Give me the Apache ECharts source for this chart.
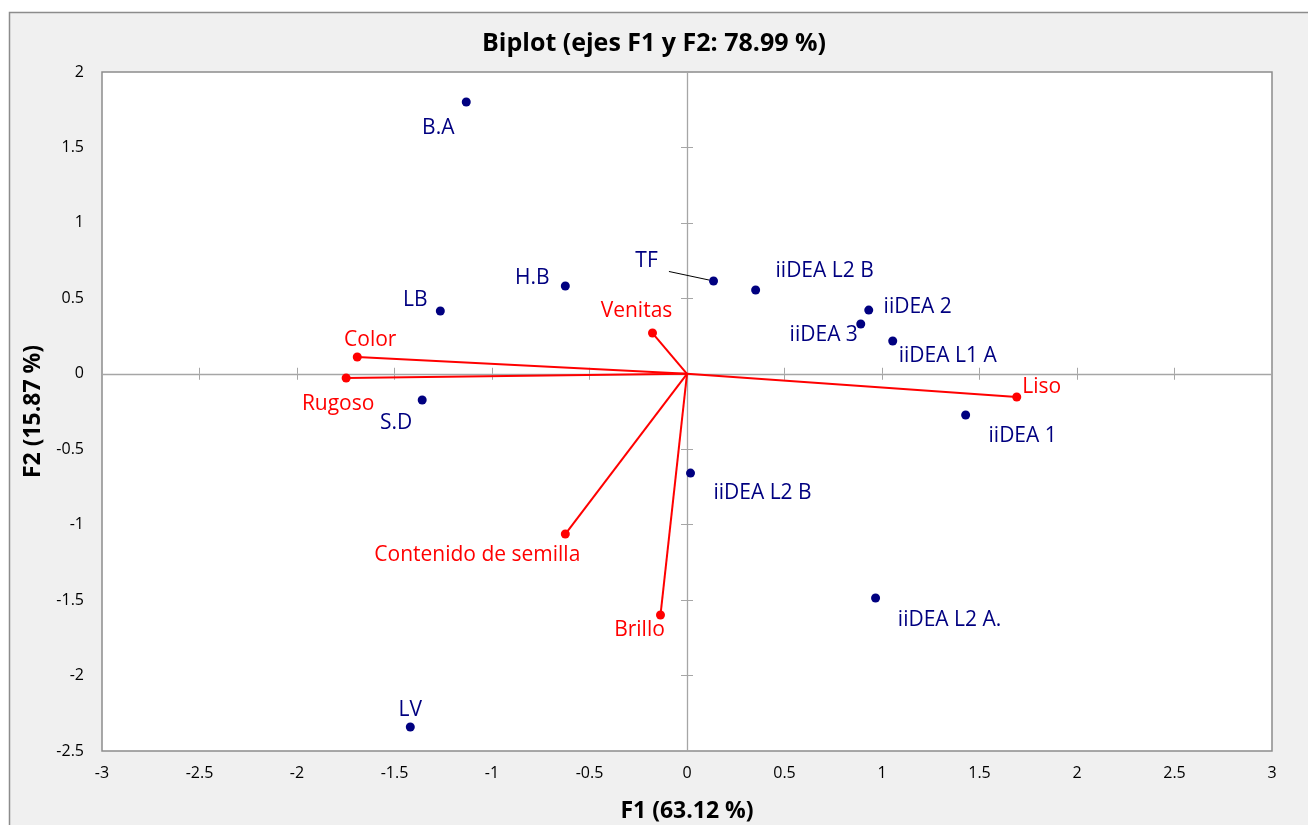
<!DOCTYPE html>
<html>
<head>
<meta charset="utf-8">
<script src="https://cdn.jsdelivr.net/npm/echarts@6/dist/echarts.min.js"></script>
<style>html,body{margin:0;padding:0;background:#fff;}#c{width:1308px;height:825px;}</style>
</head>
<body>
<div id="c"></div>
<script>
// ---- data ----
const obsNames = ['B.A','H.B','LB','S.D','LV','TF','iiDEA L2 B','iiDEA 2','iiDEA 3','iiDEA L1 A','iiDEA 1','iiDEA L2 B','iiDEA L2 A.'];
const obsF1 = [-1.132,-0.624,-1.265,-1.358,-1.419,0.136,0.352,0.932,0.891,1.055,1.429,0.018,0.967];
const obsF2 = [1.801,0.582,0.416,-0.174,-2.341,0.615,0.555,0.422,0.330,0.217,-0.273,-0.658,-1.486];

const varNames = ['Color','Rugoso','Venitas','Contenido de semilla','Brillo','Liso'];
const varF1 = [-1.691,-1.748,-0.177,-0.624,-0.136,1.691];
const varF2 = [0.111,-0.028,0.270,-1.062,-1.599,-0.154];

const titleText = 'Biplot (ejes F1 y F2: 78.99 %)';
const xName = 'F1 (63.12 %)';
const yName = 'F2 (15.87 %)';

// ---- layout (label offsets, px) ----
const obsLabelOffsets = [[-28,26],[-33,-8],[-25,-11],[-26,23],[0,-17],[-67,-20],[69,-19],[49,-3],[-37,11],[55,15],[57,21],[72,20],[74,22]];
const varLabelOffsets = [[13,-17],[-8,26],[-16,-22],[-88,21],[-21,15],[25,-10]];

const FONT = '"Open Sans", Lato, sans-serif';
const NAVY = '#000080';
const RED = '#ff0000';
const GRAY = '#a6a6a6';

const chart = echarts.init(document.getElementById('c'), null, {renderer:'canvas'});

const series = [];
varNames.forEach((n,i)=>{
  series.push({
    type:'line', xAxisIndex:0, yAxisIndex:0,
    data:[[0,0],[varF1[i],varF2[i]]],
    symbol:'none', silent:true, z:3,
    lineStyle:{color:RED,width:2}
  });
});
series.push({
  type:'scatter', xAxisIndex:0, yAxisIndex:0, z:5,
  symbolSize:9,
  itemStyle:{color:RED, opacity:1},
  data: varNames.map((n,i)=>({
    name:n, value:[varF1[i],varF2[i]],
    label:{offset:varLabelOffsets[i]}
  })),
  label:{show:true, position:'inside', formatter:'{b}', color:RED, fontSize:21, fontFamily:FONT}
});
series.push({
  type:'scatter', xAxisIndex:0, yAxisIndex:0, z:6,
  symbolSize:9,
  itemStyle:{color:NAVY, opacity:1},
  data: obsNames.map((n,i)=>{
    const d = {name:n, value:[obsF1[i],obsF2[i]], label:{offset:obsLabelOffsets[i]}};
    if (n==='TF') d.labelLine = {show:true, lineStyle:{color:'#000',width:1}};
    return d;
  }),
  labelLine:{show:false},
  label:{show:true, position:'inside', formatter:'{b}', color:NAVY, fontSize:21, fontFamily:FONT}
});

const axBase = {type:'value', min:-3, max:3, interval:0.5};
const ayBase = {type:'value', min:-2.5, max:2, interval:0.5};

chart.setOption({
  backgroundColor:'#f0f0f0',
  animation:false,
  textStyle:{fontFamily:FONT},
  title:{text:titleText, left:'center', top:26, textStyle:{fontSize:25, fontWeight:'bold', color:'#000', fontFamily:FONT}},
  grid:{left:102, top:72, right:36, bottom:74, show:true, backgroundColor:'#fff', borderColor:'#8c8c8c', borderWidth:1.5, containLabel:false, outerBoundsMode:'none'},
  xAxis:[
    Object.assign({}, axBase, {position:'bottom', axisLine:{show:false,onZero:false}, axisTick:{show:false}, splitLine:{show:false},
      axisLabel:{color:'#000', fontSize:16, margin:14, fontFamily:FONT},
      name:xName, nameLocation:'middle', nameGap:49, nameTextStyle:{fontSize:23, fontWeight:'bold', color:'#000', fontFamily:FONT}}),
    Object.assign({}, axBase, {position:'bottom', axisLine:{show:true,onZero:true,onZeroAxisIndex:0,lineStyle:{color:GRAY,width:1.3}}, axisTick:{show:true,inside:true,length:6,lineStyle:{color:GRAY}}, axisLabel:{show:false}, splitLine:{show:false}}),
    Object.assign({}, axBase, {position:'bottom', axisLine:{show:false,onZero:true,onZeroAxisIndex:0}, axisTick:{show:true,inside:false,length:6,lineStyle:{color:GRAY}}, axisLabel:{show:false}, splitLine:{show:false}})
  ],
  yAxis:[
    Object.assign({}, ayBase, {position:'left', axisLine:{show:false,onZero:false}, axisTick:{show:false}, splitLine:{show:false},
      axisLabel:{color:'#000', fontSize:16, margin:18, fontFamily:FONT},
      name:yName, nameLocation:'middle', nameGap:55, nameTextStyle:{fontSize:23, fontWeight:'bold', color:'#000', fontFamily:FONT}}),
    Object.assign({}, ayBase, {position:'left', axisLine:{show:true,onZero:true,onZeroAxisIndex:0,lineStyle:{color:GRAY,width:1.3}}, axisTick:{show:true,inside:true,length:6,lineStyle:{color:GRAY}}, axisLabel:{show:false}, splitLine:{show:false}}),
    Object.assign({}, ayBase, {position:'left', axisLine:{show:false,onZero:true,onZeroAxisIndex:0}, axisTick:{show:true,inside:false,length:6,lineStyle:{color:GRAY}}, axisLabel:{show:false}, splitLine:{show:false}})
  ],
  graphic:[
    {type:'rect', shape:{x:0,y:0,width:1308,height:12}, style:{fill:'#fff'}, silent:true},
    {type:'rect', shape:{x:0,y:0,width:9,height:825}, style:{fill:'#fff'}, silent:true},
    {type:'polyline', shape:{points:[[9.5,825],[9.5,12.5],[1308,12.5]]}, style:{stroke:'#8c8c8c', lineWidth:1.5, fill:null}, silent:true}
  ],
  series: series
});
</script>
</body>
</html>
